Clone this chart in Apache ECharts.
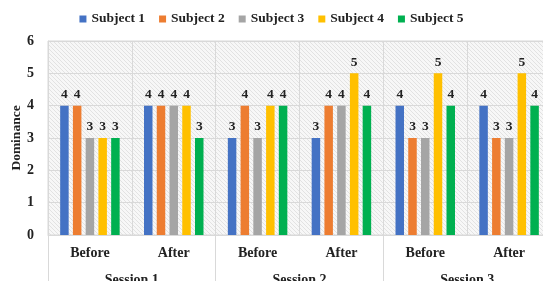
<!DOCTYPE html>
<html><head><meta charset="utf-8">
<script src="https://cdn.jsdelivr.net/npm/echarts@6/dist/echarts.min.js"></script>
<style>html,body{margin:0;padding:0;background:#fff}#c{width:543px;height:281px}</style>
</head><body><div id="c"></div>
<script>
const categories = ['Before','After','Before','After','Before','After'];
const sessions = ['Session 1','Session 2','Session 3'];
const subject1 = [4,4,3,3,4,4];
const subject2 = [4,4,4,4,3,3];
const subject3 = [3,4,3,4,3,3];
const subject4 = [3,4,4,5,5,5];
const subject5 = [3,3,4,4,4,4];
const seriesNames = ['Subject 1','Subject 2','Subject 3','Subject 4','Subject 5'];
const seriesData = [subject1,subject2,subject3,subject4,subject5];
const colors = ['#4472C4','#ED7D31','#A5A5A5','#FFC000','#00B050'];

const pc = document.createElement('canvas');
pc.width = 4; pc.height = 4;
const g = pc.getContext('2d');
g.fillStyle = '#f7f7f7'; g.fillRect(0,0,4,4);
g.strokeStyle = '#e2e2e2'; g.lineWidth = 1;
g.beginPath(); g.moveTo(-1,-1); g.lineTo(5,5); g.stroke();
g.beginPath(); g.moveTo(3,-1); g.lineTo(5,1); g.stroke();
g.beginPath(); g.moveTo(-1,3); g.lineTo(1,5); g.stroke();

const font = '"Liberation Serif", "Times New Roman", serif';
const chart = echarts.init(document.getElementById('c'), null, {renderer:'canvas'});
chart.setOption({
  animation:false,
  color: colors,
  textStyle:{fontFamily:font},
  legend:{
    top:7, left:'center', itemWidth:7, itemHeight:7, itemGap:14,
    icon:'rect',
    textStyle:{fontFamily:font, fontWeight:'bold', fontSize:13.5, color:'#222'}
  },
  grid:{left:48, right:-8, top:41, bottom:46, show:true, containLabel:false, outerBoundsMode:'none',
        backgroundColor:{image:pc, repeat:'repeat'}, borderColor:'#d9d9d9', borderWidth:1},
  xAxis:[{
    type:'category', data:categories, position:'bottom',
    axisLine:{show:true, lineStyle:{color:'#d9d9d9'}},
    axisTick:{show:false},
    splitLine:{show:true, interval:0, lineStyle:{color:'#d9d9d9'}},
    axisLabel:{margin:11, fontFamily:font, fontWeight:'bold', fontSize:14, color:'#222'}
  },{
    type:'category', data:sessions, position:'bottom', gridIndex:0,
    axisLine:{show:false},
    axisTick:{show:true, length:50, lineStyle:{color:'#d9d9d9'}},
    axisLabel:{margin:38, fontFamily:font, fontWeight:'bold', fontSize:14, color:'#222'}
  }],
  yAxis:{
    type:'value', min:0, max:6, interval:1,
    name:'Dominance', nameLocation:'middle', nameGap:24, nameRotate:90, nameMoveOverlap:false,
    nameTextStyle:{fontFamily:font, fontWeight:'bold', fontSize:13.5, color:'#222'},
    axisLine:{show:true, lineStyle:{color:'#d9d9d9'}},
    axisTick:{show:false},
    splitLine:{lineStyle:{color:'#d9d9d9'}},
    axisLabel:{margin:14, fontFamily:font, fontWeight:'bold', fontSize:14, color:'#222'}
  },
  series: seriesNames.map((n,i)=>({
    name:n, type:'bar', xAxisIndex:0, data:seriesData[i],
    barWidth:8.5, barGap:'50%',
    label:{show:true, position:'top', distance:4, fontFamily:font, fontWeight:'bold', fontSize:13.5, color:'#222'}
  }))
});
</script></body></html>
